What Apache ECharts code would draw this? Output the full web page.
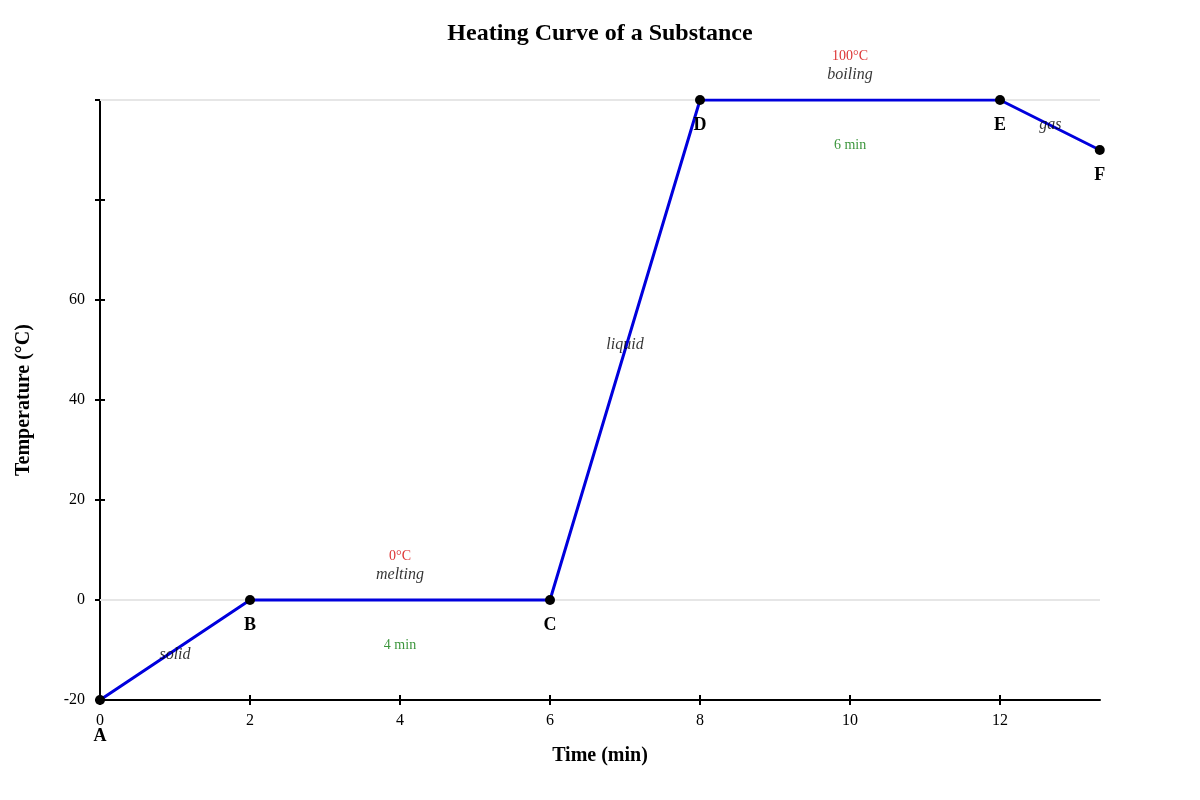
<!DOCTYPE html>
<html>
<head>
	<meta charset="utf-8">
	<title>Heating Curve of a Substance</title>
	<script src="https://cdn.jsdelivr.net/npm/echarts@6/dist/echarts.min.js"></script>
	<style>
		html, body { margin: 0; padding: 0; background: #fff; }
	</style>
</head>
<body>
	<div id="main" style="width: 1200px;height:800px;"></div>
	<script type="text/javascript">
		// curve points: time (min), temperature (°C)
		var pointNames = ['A', 'B', 'C', 'D', 'E', 'F'];
		var pointTimes = [0, 2, 6, 8, 12, 13.33];
		var pointTemps = [-20, 0, 0, 100, 100, 90];

		// annotation texts and where they sit in data units
		var noteTexts = ['solid', '0°C', 'melting', '4 min', 'liquid', '100°C', 'boiling', '6 min', 'gas'];
		var noteTimes = [1, 4, 4, 4, 7, 10, 10, 10, 12.67];
		var noteTemps = [-11, 8.8, 5, -9, 51, 108.8, 105, 91, 95];
		var noteKinds = ['phase', 'temp', 'phase', 'dur', 'phase', 'temp', 'phase', 'dur', 'phase'];

		var xTicks = [0, 2, 4, 6, 8, 10, 12];
		var yTicks = [-20, 0, 20, 40, 60];

		var font = 'Liberation Serif';
		var kindStyle = {
			phase: { color: '#000', fontStyle: 'italic', fontSize: 16 },
			temp: { color: '#d40000', fontStyle: 'normal', fontSize: 14 },
			dur: { color: '#0a7a0a', fontStyle: 'normal', fontSize: 14 }
		};

		var curve = pointTimes.map(function (t, i) {
			return {
				value: [t, pointTemps[i]],
				label: {
					show: true,
					formatter: pointNames[i],
					position: 'bottom',
					distance: i === 0 ? 22 : 11
				}
			};
		});

		var notes = noteTexts.map(function (txt, i) {
			var s = kindStyle[noteKinds[i]];
			return {
				value: [noteTimes[i], noteTemps[i]],
				label: {
					show: true,
					formatter: txt,
					position: 'inside',
					color: s.color,
					textBorderWidth: 0,
					fontStyle: s.fontStyle,
					fontSize: s.fontSize,
					fontFamily: font
				}
			};
		});

		var myChart = echarts.init(document.getElementById('main'));
		var option = {
			animation: false,
			textStyle: { fontFamily: font },
			title: {
				text: 'Heating Curve of a Substance',
				left: 'center',
				top: 17,
				textStyle: { fontFamily: font, fontSize: 24, fontWeight: 'bold', color: '#000' }
			},
			grid: { left: 100, right: 100, top: 100, bottom: 100, containLabel: false },
			xAxis: [{
				type: 'value',
				min: 0,
				max: 13.333,
				interval: 2,
				name: 'Time (min)',
				nameLocation: 'middle',
				nameGap: 46,
				nameTextStyle: { fontFamily: font, fontSize: 20, fontWeight: 'bold', color: '#000' },
				axisLine: { show: true, onZero: false, lineStyle: { color: '#000', width: 2 } },
				axisTick: { show: true, length: 5, lineStyle: { color: '#000', width: 2 },
					customValues: xTicks },
				axisLabel: { color: '#000', fontSize: 16, fontFamily: font, margin: 13,
					customValues: xTicks },
				splitLine: { show: false }
			}, {
				type: 'value',
				min: 0,
				max: 13.333,
				position: 'bottom',
				axisLine: { show: false, onZero: false },
				axisTick: { show: true, inside: true, length: 5, lineStyle: { color: '#000', width: 2 },
					customValues: xTicks },
				axisLabel: { show: false },
				splitLine: { show: false }
			}],
			yAxis: [{
				type: 'value',
				min: -20,
				max: 100,
				interval: 20,
				name: 'Temperature (°C)',
				nameLocation: 'middle',
				nameGap: 66,
				nameTextStyle: { fontFamily: font, fontSize: 20, fontWeight: 'bold', color: '#000' },
				axisLine: { show: true, onZero: false, lineStyle: { color: '#000', width: 2 } },
				axisTick: { show: true, length: 5, lineStyle: { color: '#000', width: 2 } },
				axisLabel: { color: '#000', fontSize: 16, fontFamily: font, margin: 15,
					customValues: yTicks },
				splitLine: { show: false }
			}, {
				type: 'value',
				min: -20,
				max: 100,
				interval: 20,
				position: 'left',
				axisLine: { show: false, onZero: false },
				axisTick: { show: true, inside: true, length: 5, lineStyle: { color: '#000', width: 2 } },
				axisLabel: { show: false },
				splitLine: { show: false }
			}],
			series: [{
				name: 'curve',
				type: 'line',
				data: curve,
				symbol: 'circle',
				symbolSize: 10,
				itemStyle: { color: '#000' },
				lineStyle: { color: '#0000dd', width: 3 },
				label: { color: '#000', fontSize: 18, fontWeight: 'bold', fontFamily: font },
				z: 5,
				markLine: {
					silent: true,
					symbol: 'none',
					label: { show: false },
					lineStyle: { color: '#e6e6e6', width: 2, type: 'solid' },
					data: [{ yAxis: 0 }, { yAxis: 100 }],
					z: 1
				}
			}, {
				name: 'notes',
				type: 'scatter',
				data: notes,
				clip: false,
				symbolSize: 1,
				itemStyle: { color: 'rgba(0,0,0,0)' },
				z: 6
			}]
		};
		myChart.setOption(option);
	</script>
</body>
</html>
